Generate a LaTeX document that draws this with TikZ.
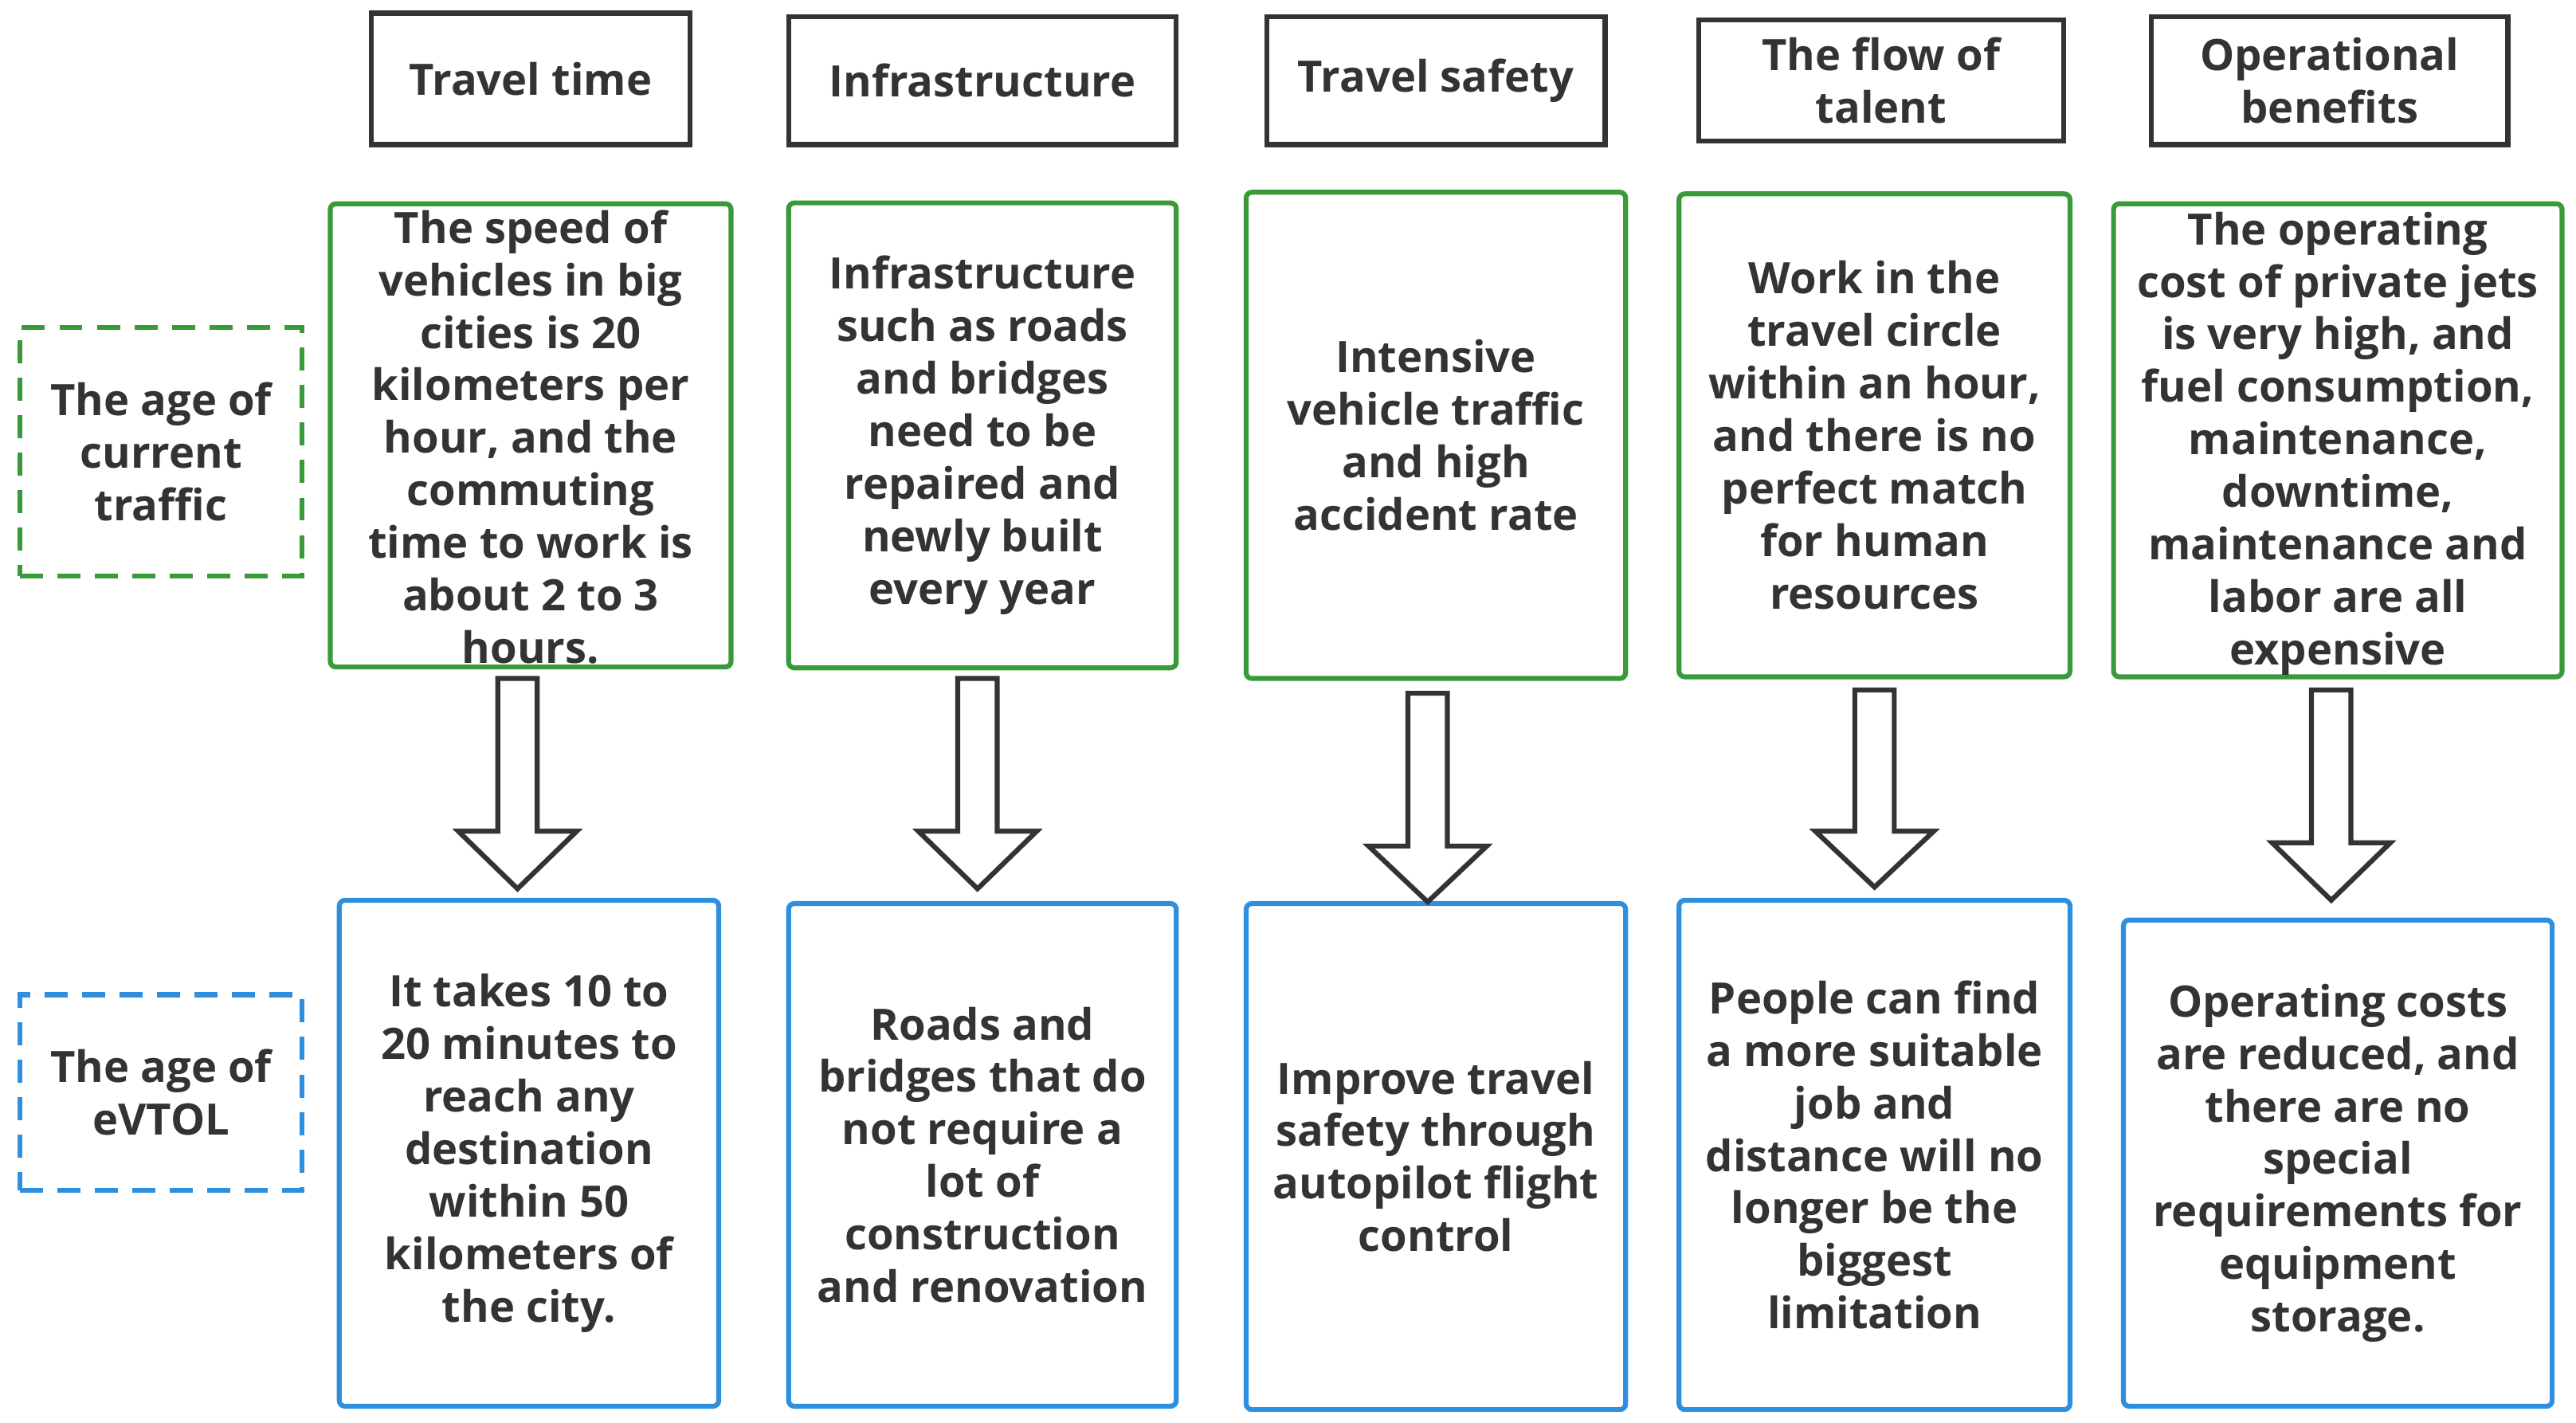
\documentclass[tikz,border=0pt]{standalone}
\usepackage{fontspec}
\setmainfont{Open Sans}
\usetikzlibrary{positioning}
\definecolor{grn}{HTML}{3A9A3A}
\definecolor{blu}{HTML}{2F8FDF}
\definecolor{ink}{HTML}{333333}

\newcommand{\hollowarrow}[4]{% x, y top, y head, y tip
    \draw[ink, line width=0.06cm] (#1-12,#2) -- (#1+12,#2) -- (#1+12,#3) -- (#1+36,#3)
        -- (#1,#4) -- (#1-36,#3) -- (#1-12,#3) -- cycle;
}

\begin{document}
\begin{tikzpicture}[x=0.02cm, y=-0.02cm,
    every node/.style={font=\bfseries\fontsize{15}{18.2}\selectfont, text=ink, align=center, inner sep=2pt},
    head/.style={draw=ink, line width=0.06cm},
    old/.style={draw=grn, line width=0.06cm, rounded corners=2pt},
    new/.style={draw=blu, line width=0.06cm, rounded corners=2pt},
    era/.style={dashed, dash pattern=on 8pt off 5pt, line width=0.06cm}]
    \useasboundingbox (0,0) rectangle (1568,866);

    % column headers
    \node[head, minimum width=194*0.02cm, minimum height=80*0.02cm] (H1) at (323,48) {Travel time};
    \node[head, minimum width=236*0.02cm, minimum height=78*0.02cm] (H2) at (598,49) {Infrastructure};
    \node[head, minimum width=206*0.02cm, minimum height=78*0.02cm] (H3) at (874,49) {Travel safety};
    \node[head, minimum width=222*0.02cm, minimum height=74*0.02cm] (H4) at (1145,49) {The flow of\\talent};
    \node[head, minimum width=217*0.02cm, minimum height=78*0.02cm] (H5) at (1418,49) {Operational\\benefits};

    % era labels
    \node[era, draw=grn, minimum width=172*0.02cm, minimum height=151*0.02cm] (OLD) at (98,275) {The age of\\current\\traffic};
    \node[era, draw=blu, minimum width=172*0.02cm, minimum height=119*0.02cm] (NEW) at (98,665) {The age of\\eVTOL};

    % current traffic
    \node[old, minimum width=244*0.02cm, minimum height=282*0.02cm] (O1) at (323,265) {};
    \node at (323,266) {The speed of\\vehicles in big\\cities is 20\\kilometers per\\hour, and the\\commuting\\time to work is\\about 2 to 3\\hours.};
    \node[old, minimum width=236*0.02cm, minimum height=283*0.02cm] (O2) at (598,265) {Infrastructure\\such as roads\\and bridges\\need to be\\repaired and\\newly built\\every year};
    \node[old, minimum width=231*0.02cm, minimum height=296*0.02cm] (O3) at (874,265) {Intensive\\vehicle traffic\\and high\\accident rate};
    \node[old, minimum width=238*0.02cm, minimum height=294*0.02cm] (O4) at (1141,265) {Work in the\\travel circle\\within an hour,\\and there is no\\perfect match\\for human\\resources};
    \node[old, minimum width=273*0.02cm, minimum height=288*0.02cm] (O5) at (1423,268) {};
    \node at (1423,270) {The operating\\cost of private jets\\is very high, and\\fuel consumption,\\maintenance,\\downtime,\\maintenance and\\labor are all\\expensive};

    % eVTOL age
    \node[new, minimum width=231*0.02cm, minimum height=308*0.02cm] (N1) at (322,702) {It takes 10 to\\20 minutes to\\reach any\\destination\\within 50\\kilometers of\\the city.};
    \node[new, minimum width=236*0.02cm, minimum height=306*0.02cm] (N2) at (598,703) {Roads and\\bridges that do\\not require a\\lot of\\construction\\and renovation};
    \node[new, minimum width=231*0.02cm, minimum height=308*0.02cm] (N3) at (874,704) {Improve travel\\safety through\\autopilot flight\\control};
    \node[new, minimum width=238*0.02cm, minimum height=310*0.02cm] (N4) at (1141,703) {People can find\\a more suitable\\job and\\distance will no\\longer be the\\biggest\\limitation};
    \node[new, minimum width=261*0.02cm, minimum height=296*0.02cm] (N5) at (1423,708) {Operating costs\\are reduced, and\\there are no\\special\\requirements for\\equipment\\storage.};

    % arrows
    \hollowarrow{315}{413}{506}{541}
    \hollowarrow{595}{413}{506}{541}
    \hollowarrow{869}{422}{515}{549}
    \hollowarrow{1141}{420}{506}{540}
    \hollowarrow{1419}{420}{513}{548}
\end{tikzpicture}
\end{document}
